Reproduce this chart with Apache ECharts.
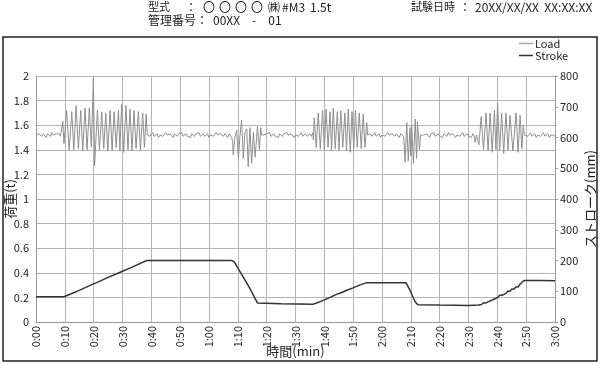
<!DOCTYPE html>
<html>
<head>
<meta charset="utf-8">
<script src="https://cdn.jsdelivr.net/npm/echarts@6/dist/echarts.min.js"></script>
<style>html,body{margin:0;padding:0;background:#fff;}#c{width:600px;height:365px;}</style>
</head>
<body>
<div id="c"></div>
<script>
// ---- tick labels ----
const xTickLabels = ['0:00','0:10','0:20','0:30','0:40','0:50','1:00','1:10','1:20','1:30','1:40','1:50','2:00','2:10','2:20','2:30','2:40','2:50','3:00'];

// ---- Load (t) : quiet baseline pieces, sampled every 0.5 along the time axis ----
const loadStep = 0.5;
const base0Start = 0;
const base0 = [1.52,1.51,1.53,1.52,1.51,1.53,1.52,1.50,1.53,1.52,1.51,1.54,1.52,1.51,1.53,1.52,1.53,1.51,1.52];
const base1Start = 39.0;
const base1 = [1.53,1.51,1.52,1.54,1.51,1.52,1.53,1.50,1.52,1.53,
  1.51,1.52,1.54,1.52,1.51,1.53,1.52,1.50,1.53,1.52,
  1.51,1.53,1.52,1.54,1.51,1.52,1.53,1.51,1.52,1.50,
  1.53,1.52,1.51,1.53,1.52,1.54,1.51,1.52,1.53,1.51,
  1.52,1.53,1.50,1.52,1.53,1.51,1.52,1.54,1.52,1.51,
  1.53,1.52,1.51,1.53,1.52,1.50,1.53,1.52];
const base2Start = 78.5;
const base2 = [1.53,1.52,1.51,1.53,1.52,1.54,1.51,1.52,1.53,1.51,
  1.52,1.50,1.53,1.52,1.51,1.53,1.52,1.54,1.52,1.51,
  1.53,1.52,1.50,1.52,1.53,1.51,1.52,1.54,1.51,1.52,
  1.53,1.51,1.52,1.53,1.51,1.54];
const base3Start = 115.5;
const base3 = [1.52,1.53,1.51,1.52,1.54,1.51,1.52,1.53,1.50,1.52,
  1.53,1.51,1.52,1.54,1.52,1.51,1.53,1.52,1.51,1.53,
  1.52,1.50,1.53,1.52,1.51];
const base4Start = 134.0;
const base4 = [1.53,1.52,1.51,1.53,1.52,1.50,1.53,1.52,1.54,1.51,
  1.52,1.53,1.51,1.52,1.50,1.53,1.52,1.51,1.54,1.52,
  1.51,1.53,1.52,1.50,1.52,1.53,1.51,1.52,1.54,1.51,
  1.52,1.53,1.51,1.52,1.50,1.53,1.51];
const base5Start = 170.0;
const base5 = [1.53,1.51,1.52,1.54,1.51,1.52,1.53,1.50,1.52,1.53,
  1.51,1.52,1.54,1.51,1.52,1.53,1.50,1.52,1.51,1.52,1.51];

// ---- Load (t) : oscillation bursts [time, value] ----
const burst1 = [[9.3,1.63],[9.7,1.45],[10.6,1.72],[11.5,1.40],[12.4,1.71],[13.1,1.40],[13.9,1.76],[14.7,1.41],
  [15.5,1.72],[16.2,1.39],[17.0,1.74],[17.7,1.40],[18.5,1.74],[19.2,1.42],[19.9,1.99],[20.3,1.27],
  [21.3,1.72],[22.0,1.40],[22.8,1.71],[23.5,1.41],[24.2,1.70],[24.9,1.39],[25.7,1.72],[26.4,1.40],
  [27.1,1.71],[27.8,1.42],[28.6,1.72],[29.1,1.39],[29.7,1.77],[30.4,1.38],[31.2,1.76],[31.9,1.40],
  [32.6,1.73],[33.3,1.39],[34.0,1.72],[34.7,1.41],[35.5,1.71],[36.2,1.40],[37.0,1.70],[37.6,1.42],
  [38.2,1.69],[38.6,1.52]];
const burst2 = [[67.9,1.50],[68.2,1.46],[68.4,1.36],[69.0,1.50],[69.6,1.56],[70.2,1.33],[70.7,1.50],[71.3,1.64],
  [71.9,1.33],[72.5,1.55],[73.1,1.57],[73.6,1.26],[74.2,1.58],[74.8,1.29],[75.4,1.54],[76.0,1.34],
  [76.8,1.59],[77.5,1.40],[77.9,1.58],[78.3,1.52]];
const burst3 = [[96.2,1.48],[96.5,1.66],[97.2,1.42],[97.9,1.70],[98.6,1.41],[99.4,1.72],[100.0,1.40],[100.6,1.73],
  [101.3,1.42],[102.0,1.71],[102.5,1.39],[103.1,1.74],[103.8,1.41],[104.5,1.71],[105.1,1.40],[105.7,1.72],
  [106.4,1.42],[107.1,1.70],[107.7,1.39],[108.3,1.73],[109.0,1.38],[109.6,1.71],[110.2,1.41],[110.8,1.72],
  [111.4,1.42],[112.1,1.70],[112.8,1.41],[113.5,1.69],[114.1,1.42],[114.7,1.62],[115.0,1.52]];
const burst4 = [[127.6,1.50],[128.0,1.30],[128.6,1.62],[129.1,1.31],[129.7,1.58],[130.0,1.35],[130.3,1.60],
  [130.9,1.29],[131.5,1.65],[132.0,1.33],[132.3,1.63],[133.0,1.40],[133.4,1.52]];
const burst5 = [[152.3,1.46],[152.8,1.52],[153.6,1.44],[154.4,1.67],[155.2,1.40],[156.1,1.70],[156.8,1.39],[157.5,1.70],
  [158.2,1.38],[159.0,1.72],[159.5,1.40],[160.1,1.78],[160.8,1.39],[161.5,1.70],[162.2,1.37],[163.0,1.70],
  [163.7,1.40],[164.4,1.68],[165.4,1.39],[166.5,1.70],[167.2,1.38],[167.9,1.68],[168.5,1.41],[169.0,1.60],[169.4,1.52]];

// ---- Stroke (mm) [time, value] ----
const strokeData = [[0,82],[9.7,82],[12,91],[15,103],[18,116],[20,124],[22,132],[25,145],[28,157],[30,165],
  [33,177],[36,190],[38.4,200],[50,200],[60,200],[67.9,200],[68.8,195],[70.8,163],[72.5,136],[74.2,109],
  [76.0,76],[76.8,62],[77.4,59],[85,59],[96.2,58],[98,64],[100,72],[102,80],[104,89],[106,96],[108,104],
  [110,111],[112,119],[114.7,128],[120,128],[128.3,128],[129.7,104],[130.5,86],[131.5,66],[132.4,56],
  [140,55],[150,54],[153.5,55],[154.5,57],[155.2,62],[156,62],[156.6,68],[157.4,68],[158,74],[158.8,74],
  [159.4,80],[160.2,80],[160.8,87],[161.6,87],[162.2,93],[163,93],[163.6,100],[164.4,100],[165,107],
  [165.8,107],[166.4,114],[167.2,114],[167.8,122],[168.4,128],[169.2,135],[175,135],[180,134]];

function expand(start, vals) { return vals.map((v, i) => [start + i * loadStep, v]); }
const loadData = [].concat(
  expand(base0Start, base0), burst1, expand(base1Start, base1), burst2,
  expand(base2Start, base2), burst3, expand(base3Start, base3), burst4,
  expand(base4Start, base4), burst5, expand(base5Start, base5));

const FONT = '"Noto Sans CJK JP", sans-serif';
const chart = echarts.init(document.getElementById('c'), null, {renderer: 'canvas'});
function txt(x, y, s, fs) {
  return {type: 'text', x: x, y: y, silent: true,
    style: {text: s, fontSize: fs || 12, fontFamily: FONT, fill: '#222', textVerticalAlign: 'middle', verticalAlign: 'middle'}};
}
chart.setOption({
  animation: false,
  backgroundColor: '#fff',
  textStyle: {fontFamily: FONT},
  graphic: [
    {type: 'rect', shape: {x: 3, y: 37, width: 594, height: 324}, style: {fill: 'none', stroke: '#222', lineWidth: 1.5}, silent: true, z: -1},
    txt(148, 7, '型式', 11), txt(185, 7, '：'),
    txt(203, 7, '〇'), txt(219, 7, '〇'), txt(235, 7, '〇'), txt(251, 7, '〇'),
    txt(268, 7, '㈱'), txt(282, 7, '#M3'), txt(310, 7, '1.5t'),
    txt(148, 20, '管理番号'), txt(196, 20, '：'), txt(213, 20, '00XX　-　01'),
    txt(411, 7, '試験日時', 11), txt(459, 7, '：'), txt(475, 7, '20XX/XX/XX  XX:XX:XX')
  ],
  legend: {
    data: ['Load', 'Stroke'], orient: 'vertical', left: 519, top: 38, padding: 0,
    itemGap: 1, itemWidth: 14, itemHeight: 1.5, icon: 'rect',
    textStyle: {fontSize: 11, color: '#222', lineHeight: 11, padding: [0, 0, 0, -3]}
  },
  grid: {left: 36, right: 45, top: 76, bottom: 43, containLabel: false, outerBoundsMode: 'none'},
  xAxis: {
    type: 'value', min: 0, max: 180, interval: 10,
    name: '時間(min)', nameLocation: 'middle', nameGap: 23, nameMoveOverlap: false,
    nameTextStyle: {fontSize: 13, color: '#222'},
    axisLine: {show: true, lineStyle: {color: '#999', width: 1}},
    axisTick: {show: false},
    axisLabel: {rotate: 90, fontSize: 11, color: '#222', margin: 4,
      formatter: v => xTickLabels[Math.round(v / 10)]},
    splitLine: {show: true, lineStyle: {color: '#b4b4b4', width: 1}}
  },
  yAxis: [
    {
      type: 'value', min: 0, max: 2, interval: 0.2,
      name: '荷重(t)', nameLocation: 'middle', nameGap: 19, nameRotate: 90, nameMoveOverlap: false,
      nameTextStyle: {fontSize: 13, color: '#222'},
      axisLine: {show: true, lineStyle: {color: '#999'}},
      axisTick: {show: false},
      axisLabel: {fontSize: 11, color: '#222', margin: 7},
      splitLine: {show: true, lineStyle: {color: '#b4b4b4', width: 1}}
    },
    {
      type: 'value', min: 0, max: 800, interval: 100, position: 'right',
      name: 'ストローク(mm)', nameLocation: 'middle', nameGap: 29, nameRotate: 90, nameMoveOverlap: false,
      nameTextStyle: {fontSize: 13, color: '#222'},
      axisLine: {show: true, lineStyle: {color: '#999'}},
      axisTick: {show: true, length: 3, lineStyle: {color: '#999'}},
      axisLabel: {fontSize: 11, color: '#222', margin: 5},
      splitLine: {show: false}
    }
  ],
  series: [
    {name: 'Load', type: 'line', yAxisIndex: 0, data: loadData, symbol: 'none', showSymbol: false,
      lineStyle: {color: '#8f8f8f', width: 1}, itemStyle: {color: '#aaaaaa'}, z: 2},
    {name: 'Stroke', type: 'line', yAxisIndex: 1, data: strokeData, symbol: 'none', showSymbol: false,
      lineStyle: {color: '#333', width: 1.5}, itemStyle: {color: '#333'}, z: 3}
  ]
});
</script>
</body>
</html>
